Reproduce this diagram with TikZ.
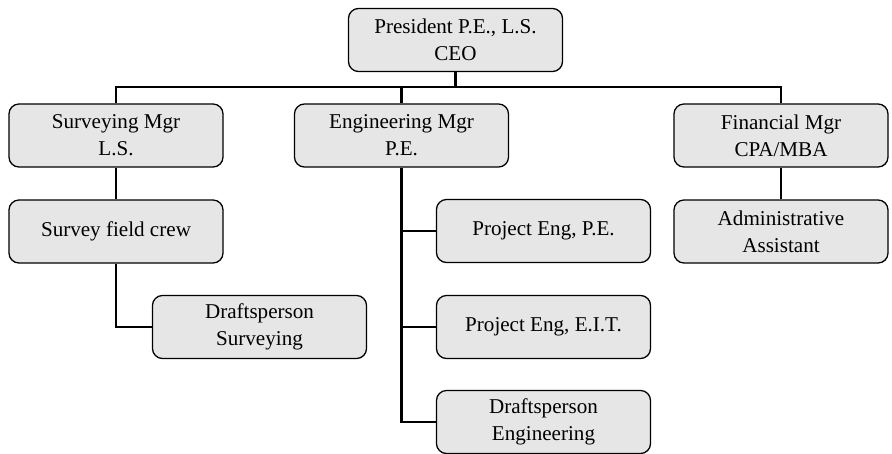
\documentclass[tikz,border=0pt]{standalone}
\usepackage{fontspec}
\setmainfont{Liberation Serif}
\usepackage{xcolor}
\usepackage{tikz}
\usetikzlibrary{positioning, calc}
\definecolor{kotak}{RGB}{230,230,230}

\begin{document}
\begin{tikzpicture}[
    x=0.025cm, y=-0.025cm,
    font=\fontsize{15}{19}\selectfont,
    jabatan/.style={draw, line width=0.9pt, fill=kotak, rounded corners=0.25cm,
                    minimum width=5.35cm, minimum height=1.575cm, align=center},
    garis/.style={line width=2pt}
  ]
    \useasboundingbox (0,0) rectangle (892,453);
    % top level
    \node[jabatan] (pres) at (455.5,40) {President P.E., L.S.\\CEO};
    \coordinate (bus) at (0,87);
    % managers
    \node[jabatan] (surv) at (116,135.5) {Surveying Mgr\\L.S.};
    \node[jabatan] (eng)  at (401.5,135.5) {Engineering Mgr\\P.E.};
    \node[jabatan] (fin)  at (781,135.5) {Financial Mgr\\CPA/MBA};
    % staff
    \node[jabatan] (crew)  at (116,231.5) {Survey field crew};
    \node[jabatan] (dsurv) at (259.5,327) {Draftsperson\\Surveying};
    \node[jabatan] (pe)    at (543.5,231) {Project Eng, P.E.};
    \node[jabatan] (eit)   at (543.5,327) {Project Eng, E.I.T.};
    \node[jabatan] (deng)  at (543.5,422) {Draftsperson\\Engineering};
    \node[jabatan] (adm)   at (781,231.5) {Administrative\\Assistant};
    % connectors
    \draw[garis] (pres.south) -- (pres.south |- bus);
    \draw[garis] (surv.north) -- (surv.north |- bus) -- (fin.north |- bus) -- (fin.north);
    \draw[garis] (eng.north) -- (eng.north |- bus);
    \draw[garis] (surv) -- (crew);
    \draw[garis] (crew.south) |- (dsurv.west);
    \draw[garis] (eng.south) |- (deng.west);
    \draw[garis] (eng.south |- pe.west) -- (pe.west);
    \draw[garis] (eng.south |- eit.west) -- (eit.west);
    \draw[garis] (fin) -- (adm);
  \end{tikzpicture}
\end{document}
